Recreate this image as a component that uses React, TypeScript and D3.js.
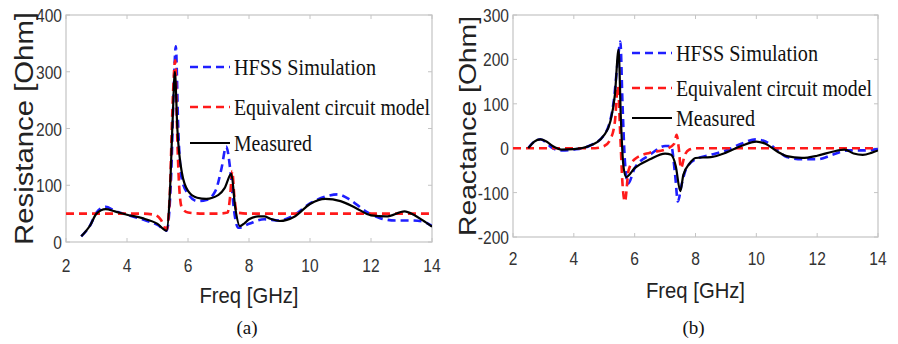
import { useEffect, useRef } from 'react';
import * as d3 from 'd3';

// (a) Resistance
const resHfssF = [2.5, 2.8, 3.0, 3.3, 3.6, 4.0, 4.5, 5.0, 5.3, 5.45, 5.55, 5.6, 5.68, 5.8, 6.0, 6.3, 6.6, 6.9, 7.1, 7.25, 7.4, 7.5, 7.65, 8.0, 8.5, 9.0, 9.5, 10.0, 10.5, 10.9, 11.3, 11.8, 12.3, 12.8, 13.3, 13.7, 14.0];
const resHfssV = [10, 30, 52, 62, 55, 48, 40, 30, 20, 120, 300, 345, 200, 110, 85, 72, 74, 90, 130, 168, 120, 60, 25, 32, 40, 38, 48, 68, 80, 84, 75, 55, 42, 38, 38, 36, 28];
const resEqF = [2.0, 4.5, 4.9, 5.1, 5.3, 5.4, 5.5, 5.58, 5.65, 5.72, 5.8, 6.0, 6.5, 7.0, 7.3, 7.38, 7.45, 7.52, 7.6, 8.0, 14.0];
const resEqV = [50, 50, 48, 40, 22, 80, 250, 320, 180, 90, 60, 52, 50, 50, 52, 80, 125, 80, 52, 50, 50];
const resMeasF = [2.5, 2.8, 3.0, 3.3, 3.6, 4.0, 4.5, 5.0, 5.3, 5.4, 5.5, 5.57, 5.65, 5.8, 6.0, 6.3, 6.6, 7.0, 7.2, 7.42, 7.55, 7.7, 7.85, 8.0, 8.3, 8.5, 8.7, 9.0, 9.5, 10.0, 10.5, 11.0, 11.5, 12.0, 12.5, 13.1, 13.4, 13.7, 14.0];
const resMeasV = [10, 30, 50, 58, 54, 48, 42, 32, 20, 80, 220, 300, 200, 122, 90, 78, 76, 83, 95, 120, 60, 28, 33, 40, 45, 45, 41, 37, 45, 67, 76, 72, 60, 47, 45, 54, 48, 38, 27];

// (b) Reactance
const reaHfssF = [2.5, 2.7, 2.9, 3.1, 3.3, 3.6, 4.0, 4.5, 5.0, 5.3, 5.45, 5.53, 5.6, 5.68, 5.78, 6.0, 6.5, 7.0, 7.2, 7.33, 7.42, 7.55, 7.7, 8.0, 8.5, 9.0, 9.5, 10.0, 10.3, 10.7, 11.0, 11.5, 12.0, 12.5, 13.0, 13.5, 14.0];
const reaHfssV = [0, 15, 20, 12, 0, -5, -3, 5, 30, 100, 200, 240, 100, -30, -80, -45, -15, 5, 5, -60, -120, -80, -45, -25, -15, -5, 10, 20, 15, -5, -20, -25, -25, -15, -5, -5, -2];
const reaEqF = [2.0, 4.7, 5.0, 5.2, 5.35, 5.45, 5.52, 5.6, 5.68, 5.8, 6.0, 6.5, 7.0, 7.3, 7.38, 7.45, 7.52, 7.65, 7.8, 8.0, 14.0];
const reaEqV = [0, 0, 5, 20, 60, 140, 40, -80, -120, -50, -25, -10, -3, 10, 30, 0, -45, -15, -3, 0, 0];
const reaMeasF = [2.5, 2.7, 2.9, 3.1, 3.3, 3.6, 4.0, 4.5, 5.0, 5.2, 5.35, 5.47, 5.55, 5.63, 5.72, 6.0, 6.5, 7.0, 7.2, 7.35, 7.5, 7.6, 7.8, 8.0, 8.5, 9.0, 9.5, 10.0, 10.3, 10.7, 11.0, 11.5, 12.0, 12.5, 12.9, 13.2, 13.5, 13.8, 14.0];
const reaMeasV = [0, 15, 20, 15, 5, -3, -2, 5, 30, 60, 120, 222, 60, -40, -65, -45, -25, -12, -15, -40, -97, -60, -35, -22, -20, -10, 5, 15, 10, -8, -18, -22, -17, -8, -3, -12, -15, -10, -5];

const freqTicks = [2, 4, 6, 8, 10, 12, 14];
const resTicks = [0, 100, 200, 300, 400];
const reaTicks = [-200, -100, 0, 100, 200, 300];
const legendLabels = ['HFSS Simulation', 'Equivalent circuit model', 'Measured'];

interface Series { f: number[]; v: number[]; color: string; dash: string | null; }
interface Panel {
    id: string;
    x0: number; x1: number; y0: number; y1: number;
    yDomain: [number, number]; yTicks: number[];
    series: Series[];
    yTitle: string; yTitleX: number; yTitleLen: number; yTitleSize: number;
    xTickBase: number; xTitleBase: number;
    caption: string;
    legX: number; legYs: number[]; legLens: number[];
}

const panels: Panel[] = [
    {
        id: 'a', x0: 66, x1: 432, y0: 15, y1: 242,
        yDomain: [0, 400], yTicks: resTicks,
        series: [
            { f: resHfssF, v: resHfssV, color: '#1f1fff', dash: '8,5' },
            { f: resEqF, v: resEqV, color: '#ff1a1a', dash: '8,5' },
            { f: resMeasF, v: resMeasV, color: '#000', dash: null },
        ],
        yTitle: 'Resistance [Ohm]', yTitleX: 33, yTitleLen: 233, yTitleSize: 26,
        xTickBase: 272, xTitleBase: 303, caption: '(a)',
        legX: 190, legYs: [67, 107, 143], legLens: [142, 196, 78],
    },
    {
        id: 'b', x0: 513, x1: 878, y0: 15, y1: 237,
        yDomain: [-200, 300], yTicks: reaTicks,
        series: [
            { f: reaHfssF, v: reaHfssV, color: '#1f1fff', dash: '8,5' },
            { f: reaEqF, v: reaEqV, color: '#ff1a1a', dash: '8,5' },
            { f: reaMeasF, v: reaMeasV, color: '#000', dash: null },
        ],
        yTitle: 'Reactance [Ohm]', yTitleX: 476, yTitleLen: 220, yTitleSize: 24,
        xTickBase: 265, xTitleBase: 298, caption: '(b)',
        legX: 632, legYs: [53, 88, 118], legLens: [142, 196, 79],
    },
];

export default function App() {
    const svgRef = useRef<SVGSVGElement>(null);

    useEffect(() => {
        if (!svgRef.current) return;
        const svg = d3.select(svgRef.current);
        svg.selectAll('*').remove();

        panels.forEach(p => {
            const x = d3.scaleLinear().domain([2, 14]).range([p.x0, p.x1]);
            const y = d3.scaleLinear().domain(p.yDomain).range([p.y1, p.y0]);
            const g = svg.append('g');

            // box + inward ticks
            g.append('rect')
                .attr('x', p.x0).attr('y', p.y0)
                .attr('width', p.x1 - p.x0).attr('height', p.y1 - p.y0)
                .attr('fill', '#fff').attr('stroke', '#c4c4c4').attr('stroke-width', 1.2);
            freqTicks.forEach(t => {
                g.append('line').attr('x1', x(t)).attr('x2', x(t)).attr('y1', p.y1).attr('y2', p.y1 - 4).attr('stroke', '#c4c4c4');
                g.append('line').attr('x1', x(t)).attr('x2', x(t)).attr('y1', p.y0).attr('y2', p.y0 + 4).attr('stroke', '#c4c4c4');
                g.append('text')
                    .attr('transform', `translate(${x(t)},${p.xTickBase}) scale(0.82,1)`)
                    .attr('text-anchor', 'middle')
                    .attr('font-family', 'Liberation Sans, Arial, sans-serif')
                    .attr('font-size', 19).attr('fill', '#333')
                    .text(String(t));
            });
            p.yTicks.forEach(t => {
                g.append('line').attr('x1', p.x0).attr('x2', p.x0 + 4).attr('y1', y(t)).attr('y2', y(t)).attr('stroke', '#c4c4c4');
                g.append('line').attr('x1', p.x1).attr('x2', p.x1 - 4).attr('y1', y(t)).attr('y2', y(t)).attr('stroke', '#c4c4c4');
                g.append('text')
                    .attr('transform', `translate(${p.x0 - 4},${y(t) + 7}) scale(0.82,1)`)
                    .attr('text-anchor', 'end')
                    .attr('font-family', 'Liberation Sans, Arial, sans-serif')
                    .attr('font-size', 19).attr('fill', '#333')
                    .text(String(t));
            });

            // curves
            const clipId = `clip-${p.id}`;
            svg.append('defs').append('clipPath').attr('id', clipId)
                .append('rect').attr('x', p.x0).attr('y', p.y0).attr('width', p.x1 - p.x0).attr('height', p.y1 - p.y0);
            const line = d3.line<[number, number]>()
                .x(d => x(d[0])).y(d => y(d[1]))
                .curve(d3.curveMonotoneX);
            p.series.forEach(s => {
                const pts = s.f.map((f, i) => [f, s.v[i]] as [number, number]);
                g.append('path')
                    .attr('clip-path', `url(#${clipId})`)
                    .attr('d', line(pts))
                    .attr('fill', 'none')
                    .attr('stroke', s.color)
                    .attr('stroke-width', s.dash ? 2.6 : 2.2)
                    .attr('stroke-dasharray', s.dash);
            });

            // legend
            p.series.forEach((s, i) => {
                const ly = p.legYs[i];
                g.append('line')
                    .attr('x1', p.legX).attr('x2', p.legX + 40).attr('y1', ly).attr('y2', ly)
                    .attr('stroke', s.color).attr('stroke-width', s.dash ? 2.6 : 2.2)
                    .attr('stroke-dasharray', s.dash);
                g.append('text')
                    .attr('x', p.legX + 44).attr('y', ly + 8)
                    .attr('font-family', 'Liberation Serif, Times New Roman, serif')
                    .attr('font-size', 23).attr('fill', '#111')
                    .attr('textLength', p.legLens[i]).attr('lengthAdjust', 'spacingAndGlyphs')
                    .text(legendLabels[i]);
            });

            // axis titles
            const xc = (p.x0 + p.x1) / 2;
            g.append('text')
                .attr('x', xc).attr('y', p.xTitleBase)
                .attr('text-anchor', 'middle')
                .attr('font-family', 'Liberation Sans, Arial, sans-serif')
                .attr('font-size', 22).attr('fill', '#222')
                .attr('textLength', 99).attr('lengthAdjust', 'spacingAndGlyphs')
                .text('Freq [GHz]');
            g.append('text')
                .attr('transform', `translate(${p.yTitleX},${(p.y0 + p.y1) / 2}) rotate(-90)`)
                .attr('text-anchor', 'middle')
                .attr('font-family', 'Liberation Sans, Arial, sans-serif')
                .attr('font-size', p.yTitleSize).attr('fill', '#222')
                .attr('textLength', p.yTitleLen).attr('lengthAdjust', 'spacingAndGlyphs')
                .text(p.yTitle);
            g.append('text')
                .attr('x', xc - 2).attr('y', 334)
                .attr('text-anchor', 'middle')
                .attr('font-family', 'Liberation Serif, Times New Roman, serif')
                .attr('font-size', 19).attr('fill', '#111')
                .text(p.caption);
        });
    }, []);

    return (
        <svg ref={svgRef} width={898} height={344}
            style={{ position: 'absolute', left: 0, top: 0, background: '#fff' }} />
    );
}
